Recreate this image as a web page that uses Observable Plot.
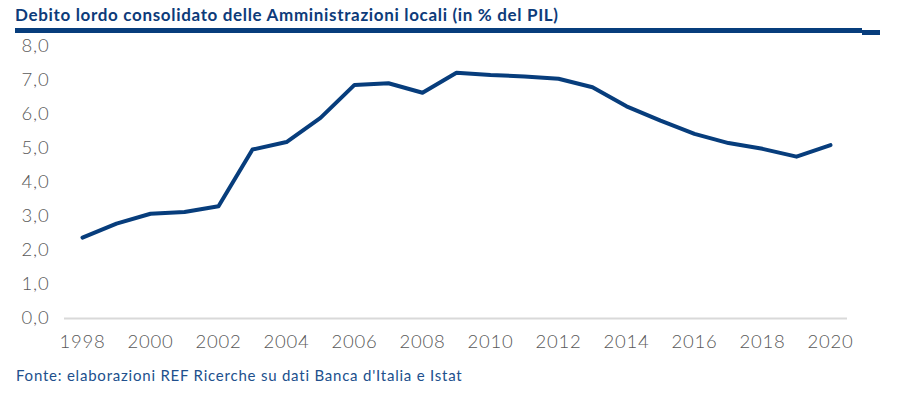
<!DOCTYPE html>
<html>
<head>
<meta charset="utf-8">
<script src="https://cdn.jsdelivr.net/npm/d3@7"></script>
<script src="https://cdn.jsdelivr.net/npm/@observablehq/plot@0.6"></script>
<style>
  html, body { margin: 0; padding: 0; background: #fff; }
  #wrap { position: relative; width: 907px; height: 398px; overflow: hidden; font-family: Lato, "Open Sans", sans-serif; background: #fff; }
  #title { position: absolute; left: 15px; top: 4px; font-size: 17px; font-weight: bold; color: #0d3b7a; white-space: nowrap; z-index: 2; }
  #bar { position: absolute; left: 15px; top: 28px; width: 847px; height: 5px; background: #073d7c; z-index: 2; }
  #bar2 { position: absolute; left: 862px; top: 30px; width: 18px; height: 5px; background: #073d7c; z-index: 2; }
  #chart { position: absolute; left: 0; top: 26px; z-index: 1; }
  #caption { position: absolute; left: 16px; top: 366px; font-size: 15px; color: #21508d; white-space: nowrap; z-index: 2; }
  #chart svg text { letter-spacing: 0.8px; }
</style>
</head>
<body>
<div id="wrap">
  <div id="title">Debito lordo consolidato delle Amministrazioni locali (in % del PIL)</div>
  <div id="bar"></div>
  <div id="bar2"></div>
  <div id="chart"></div>
  <div id="caption">Fonte: elaborazioni REF Ricerche su dati Banca d'Italia e Istat</div>
</div>
<script>
const years = [1998, 1999, 2000, 2001, 2002, 2003, 2004, 2005, 2006, 2007, 2008, 2009, 2010, 2011, 2012, 2013, 2014, 2015, 2016, 2017, 2018, 2019, 2020];
const debt  = [2.38, 2.79, 3.08, 3.13, 3.30, 4.97, 5.19, 5.90, 6.87, 6.92, 6.64, 7.23, 7.16, 7.12, 7.05, 6.80, 6.24, 5.82, 5.43, 5.16, 4.99, 4.76, 5.10];
const xTicks = [1998, 2000, 2002, 2004, 2006, 2008, 2010, 2012, 2014, 2016, 2018, 2020];
const yTicks = [0, 1, 2, 3, 4, 5, 6, 7, 8];

const data = years.map((y, i) => ({year: y, value: debt[i]}));

const chart = Plot.plot({
  width: 907,
  height: 330,
  marginLeft: 64,
  marginRight: 60,
  marginTop: 20,
  marginBottom: 38,
  style: {fontFamily: "Lato, 'Open Sans', sans-serif", fontSize: "18.5px", fontWeight: 300, color: "#595959", background: "transparent"},
  x: {type: "point", domain: years, padding: 0.5, label: null},
  y: {domain: [0, 8], label: null},
  marks: [
    Plot.ruleY([0], {stroke: "#d9d9d9", strokeWidth: 2}),
    Plot.axisX({ticks: xTicks, tickSize: 0, tickPadding: 16, tickFormat: d => String(d), fill: "#595959", label: null}),
    Plot.axisY({ticks: yTicks, tickSize: 0, tickPadding: 15, tickFormat: d => d.toFixed(1).replace(".", ","), fill: "#595959", label: null}),
    Plot.line(data, {x: "year", y: "value", stroke: "#073d7c", strokeWidth: 4, strokeLinejoin: "round", strokeLinecap: "round"})
  ]
});
document.getElementById("chart").appendChild(chart);

// stretch title and caption to the widths they occupy in the reference
function fitWidth(id, target) {
  const el = document.getElementById(id);
  const w = el.getBoundingClientRect().width;
  const n = el.textContent.length;
  if (n > 1) el.style.letterSpacing = ((target - w) / (n - 1)) + "px";
}
fitWidth("title", 543);
fitWidth("caption", 446);
</script>
</body>
</html>
